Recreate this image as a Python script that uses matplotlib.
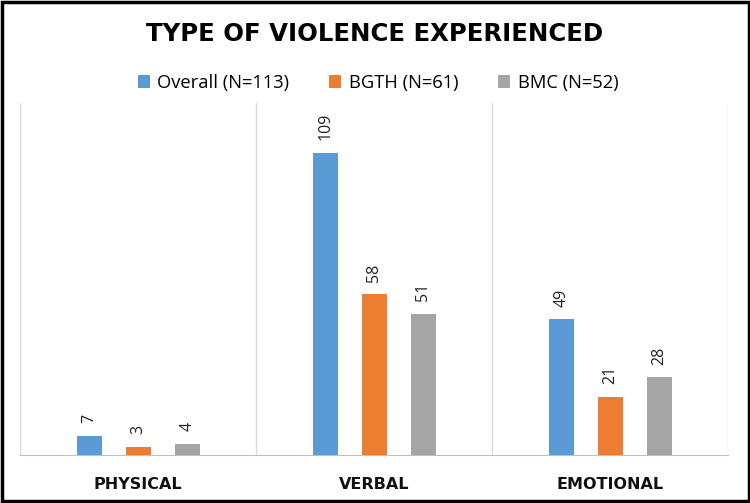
import numpy as np
import matplotlib.pyplot as plt
from matplotlib.patches import Rectangle

# Chart data
categories = ['PHYSICAL', 'VERBAL', 'EMOTIONAL']
series_names = ['Overall (N=113)', 'BGTH (N=61)', 'BMC (N=52)']
overall = [7, 109, 49]
bgth = [3, 58, 21]
bmc = [4, 51, 28]

colors = ['#5B9BD5', '#ED7D31', '#A5A5A5']
plt.rcParams['font.family'] = ['Open Sans', 'DejaVu Sans']

fig = plt.figure(figsize=(7.5, 5.03), dpi=100)
ax = fig.add_axes([0.027, 0.0954, 0.944, 0.70])

x = np.arange(len(categories))
width = 0.107
offset = 0.208
for i, (vals, name) in enumerate(zip([overall, bgth, bmc], series_names)):
    pos = x + (i - 1) * offset
    bars = ax.bar(pos, vals, width=width, color=colors[i], label=name, zorder=3)
    for b, v in zip(bars, vals):
        ax.text(b.get_x() + b.get_width() / 2, v + 4.5, str(v), rotation=90,
                ha='center', va='bottom', fontsize=11.5, color='#222222')

ax.set_xlim(-0.5, len(categories) - 0.5)
ax.set_ylim(0, 127)
ax.set_yticks([])
ax.set_xticks(x)
ax.set_xticklabels(categories, fontsize=11.5, fontweight='bold',
                   family='DejaVu Sans', color='#111111')
ax.tick_params(axis='x', length=0, pad=16)

# vertical separators between categories
for b in np.arange(-0.5, len(categories), 1.0):
    ax.axvline(b, color='#D9D9D9', lw=1, zorder=1)
for s in ['top', 'left', 'right']:
    ax.spines[s].set_visible(False)
ax.spines['bottom'].set_color('#BFBFBF')

fig.text(0.5, 0.932, 'TYPE OF VIOLENCE EXPERIENCED', ha='center', va='center',
         fontsize=17.6, fontweight='bold', family='DejaVu Sans', color='black')

fig.legend(loc='center', bbox_to_anchor=(0.504, 0.835), ncol=3, frameon=False,
           fontsize=13.2, handlelength=0.65, handleheight=0.65, handletextpad=0.4,
           columnspacing=2.2)

fig.patches.append(Rectangle((0.002, 0.003), 0.996, 0.994, transform=fig.transFigure,
                             fill=False, edgecolor='black', lw=2.5))

fig.savefig('out.png', dpi=100)
